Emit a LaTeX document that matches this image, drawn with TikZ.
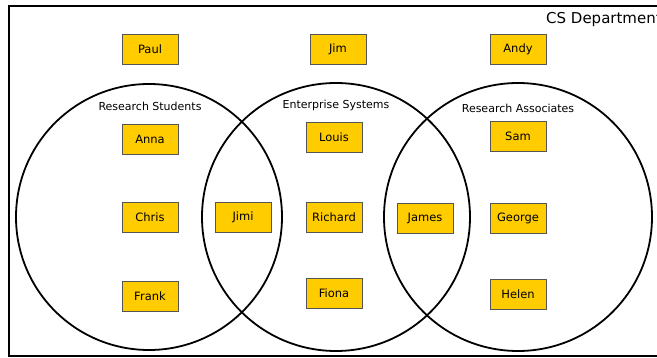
\documentclass[tikz,border=0pt]{standalone}
\usepackage{fontspec}
\setmainfont{DejaVu Sans}
\definecolor{boxfill}{HTML}{FFCC00}
\definecolor{boxline}{HTML}{555555}
\begin{document}
\begin{tikzpicture}[x=1pt,y=-1pt,
  person/.style={draw=boxline,line width=0.8pt,fill=boxfill,minimum width=56pt,minimum height=30pt,inner sep=0pt,font=\fontsize{11.5}{13}\selectfont},
  setc/.style={draw=black,line width=1.8pt},
  setlabel/.style={font=\fontsize{11}{13}\selectfont,inner sep=0pt}]
\useasboundingbox (0,0) rectangle (657,358);
\draw[line width=2.2pt] (9,6) rectangle (680,356);
\node[anchor=base west,inner sep=0pt,font=\fontsize{15}{17}\selectfont] (dept) at (546,24) {CS Department};
% sets
\draw[setc] (149,217) circle (133);
\draw[setc] (336,217) circle (134);
\draw[setc] (518,217) circle (134);
\node[setlabel] (rs) at (150,106) {Research Students};
\node[setlabel] (es) at (336,105) {Enterprise Systems};
\node[setlabel] (ra) at (518,108) {Research Associates};
% people
\node[person] (paul) at (150,49) {Paul};
\node[person] (jim) at (338,49) {Jim};
\node[person] (andy) at (518,49) {Andy};
\node[person] (anna) at (150,139) {Anna};
\node[person] (louis) at (334,137) {Louis};
\node[person] (sam) at (518,136) {Sam};
\node[person] (chris) at (150,217) {Chris};
\node[person] (jimi) at (243,217) {Jimi};
\node[person] (richard) at (334,217) {Richard};
\node[person] (james) at (425,218) {James};
\node[person] (george) at (518,218) {George};
\node[person] (frank) at (150,296) {Frank};
\node[person] (fiona) at (334,293) {Fiona};
\node[person] (helen) at (518,294) {Helen};
\end{tikzpicture}
\end{document}
